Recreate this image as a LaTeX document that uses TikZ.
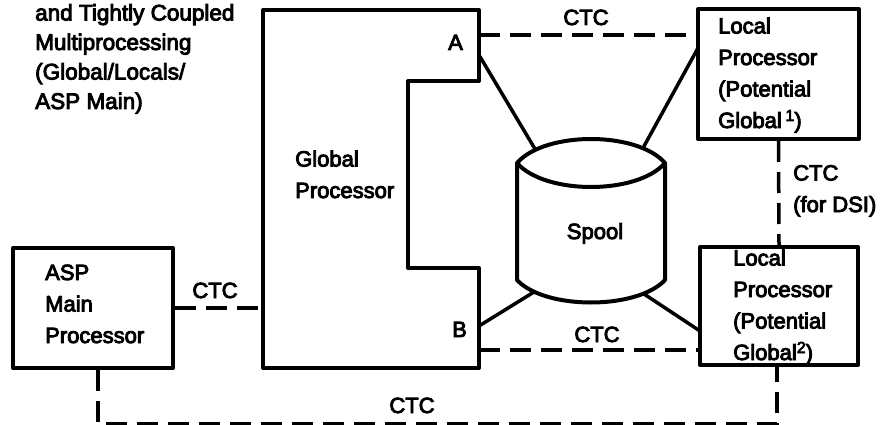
\documentclass[tikz,border=0pt]{standalone}
\usepackage{fontspec}
\setmainfont[FakeBold=4]{Liberation Sans}
\begin{document}
\begin{tikzpicture}[x=1pt,y=-1pt,
  box/.style={draw, line width=4pt, inner sep=0pt, line join=round},
  ctc/.style={line width=3.5pt, dash pattern=on 21pt off 10pt},
  link/.style={line width=3.5pt},
  lbl/.style={inner sep=0pt, font=\fontsize{22}{31.5}\selectfont, align=left}]
\useasboundingbox (0,0) rectangle (893,425);

% heading (base anchor = last line)
\node[lbl, anchor=base west, font=\fontsize{22.5}{29.5}\selectfont] (head) at (35,109)
  {and Tightly Coupled\\Multiprocessing\\(Global/Locals/\\ASP Main)};

% global processor outline
\draw[line width=4pt, line join=round]
  (263,10) -- (479,10) -- (479,81) -- (408,81) -- (408,268) -- (479,268)
  -- (479,368) -- (263,368) -- cycle;
\coordinate (gA) at (479,35);
\coordinate (gAs) at (479,55);
\coordinate (gB) at (479,350);
\coordinate (gBs) at (479,326);
\coordinate (gASP) at (263,308);
\node[lbl, anchor=base west] (glob) at (295,198) {Global\\Processor};
\node[lbl, anchor=base west] (pA) at (448,50) {A};
\node[lbl, anchor=base west] (pB) at (452,337) {B};

% boxes
\node[box, minimum width=161pt, minimum height=130pt] (loc1) at (778.5,74) {};
\node[box, minimum width=158pt, minimum height=118pt] (loc2) at (779,306) {};
\node[box, minimum width=160pt, minimum height=120pt] (asp) at (93,308) {};

\node[lbl, anchor=base west] (t1) at (718,128)
  {Local\\Processor\\(Potential\\Global\,\raisebox{7pt}{\fontsize{16}{16}\selectfont 1})};
\node[lbl, anchor=base west] (t2) at (733,360)
  {Local\\Processor\\(Potential\\Global\raisebox{7pt}{\fontsize{16}{16}\selectfont 2})};
\node[lbl, anchor=base west] (t3) at (45,343) {ASP\\Main\\Processor};

% spool attachment points
\coordinate (sTL) at (535,149);
\coordinate (sTR) at (643,148);
\coordinate (sBL) at (534,292);
\coordinate (sBR) at (644,294);
\coordinate (l1p) at (698,48);
\coordinate (l2p) at (700,331);

% solid links
\draw[link] (gAs) -- (sTL);
\draw[link] (sTR) -- (l1p);
\draw[link] (gBs) -- (sBL);
\draw[link] (sBR) -- (l2p);

% spool
\draw[line width=4pt, line join=round, fill=white]
  (517,163) .. controls (545,131) and (637,131) .. (665,163)
  -- (665,280) .. controls (637,310) and (545,310) .. (517,280) -- cycle;
\draw[line width=4pt]
  (517,163) .. controls (545,195) and (637,195) .. (665,163);
\node[lbl, anchor=base] (spool) at (595,239) {Spool};

% CTC connections
\draw[ctc] (gA) -- (gA -| loc1.west);
\node[lbl, anchor=base] (c1) at (586,25) {CTC};
\draw[ctc] (gB) -- (gB -| loc2.west);
\node[lbl, anchor=base] (c2) at (597,342) {CTC};
\draw[ctc] (asp.east) -- (gASP);
\node[lbl, anchor=base] (c3) at (215,298) {CTC};
\draw[ctc] (loc1.south) -- (loc2.north);
\node[lbl, anchor=base west] (c4) at (793,212) {CTC\\(for DSI)};
\draw[ctc] ([xshift=5pt]asp.south) -- ++(0,54) -| ([xshift=-2pt]loc2.south);
\node[lbl, anchor=base] (c5) at (412,413) {CTC};
\end{tikzpicture}
\end{document}
